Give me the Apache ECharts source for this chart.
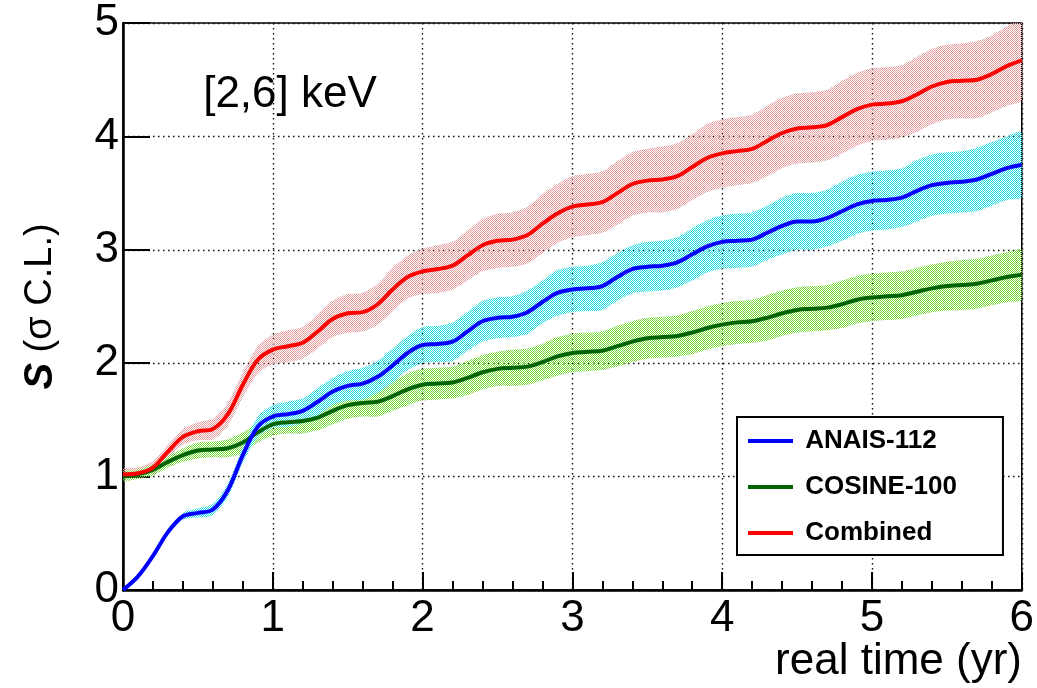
<!DOCTYPE html>
<html>
<head>
<meta charset="utf-8">
<title>Sensitivity vs real time</title>
<script src="https://cdn.jsdelivr.net/npm/echarts@6/dist/echarts.min.js"></script>
<style>
  html, body { margin: 0; padding: 0; background: #fff; }
  #chart { width: 1037px; height: 688px; }
</style>
</head>
<body>
<div id="chart"></div>
<script>
// Sampling times (yr)
const TIME = [0.0,0.1,0.2,0.3,0.4,0.5,0.6,0.7,0.8,0.9,1.0,
  1.1,1.2,1.3,1.4,1.5,1.6,1.7,1.8,1.9,2.0,
  2.1,2.2,2.3,2.4,2.5,2.6,2.7,2.8,2.9,3.0,
  3.1,3.2,3.3,3.4,3.5,3.6,3.7,3.8,3.9,4.0,
  4.1,4.2,4.3,4.4,4.5,4.6,4.7,4.8,4.9,5.0,
  5.1,5.2,5.3,5.4,5.5,5.6,5.7,5.8,5.9,6.0];

// ANAIS-112 sensitivity (sigma C.L.) and band half-width
const ANAIS = [0.00,0.12,0.30,0.51,0.65,0.68,0.71,0.88,1.19,1.44,1.53,
  1.55,1.58,1.66,1.75,1.80,1.82,1.88,1.98,2.09,2.16,
  2.17,2.19,2.28,2.37,2.40,2.41,2.45,2.54,2.62,2.65,
  2.66,2.68,2.76,2.83,2.85,2.86,2.89,2.96,3.03,3.07,
  3.08,3.09,3.15,3.21,3.25,3.25,3.28,3.34,3.40,3.43,
  3.44,3.46,3.52,3.57,3.59,3.60,3.62,3.67,3.72,3.75];
const ANAIS_HW = [0.01,0.01,0.02,0.02,0.03,0.04,0.05,0.06,0.07,0.09,0.10,
  0.11,0.11,0.12,0.12,0.13,0.14,0.14,0.15,0.15,0.16,
  0.16,0.17,0.17,0.18,0.18,0.18,0.19,0.19,0.20,0.20,
  0.20,0.21,0.21,0.21,0.22,0.22,0.22,0.23,0.23,0.235,
  0.24,0.24,0.24,0.25,0.25,0.25,0.25,0.26,0.26,0.26,
  0.26,0.26,0.27,0.27,0.27,0.27,0.28,0.28,0.28,0.285];

// COSINE-100
const COSINE = [1.00,1.02,1.06,1.13,1.19,1.23,1.24,1.25,1.30,1.39,1.46,
  1.48,1.49,1.52,1.58,1.63,1.65,1.66,1.71,1.77,1.81,
  1.82,1.83,1.87,1.92,1.95,1.96,1.97,2.01,2.06,2.09,
  2.10,2.11,2.15,2.19,2.22,2.23,2.24,2.27,2.31,2.34,
  2.36,2.37,2.40,2.44,2.47,2.48,2.49,2.52,2.56,2.58,
  2.59,2.60,2.63,2.66,2.68,2.69,2.70,2.73,2.76,2.78];
const COSINE_HW = [0.04,0.04,0.05,0.05,0.06,0.07,0.07,0.08,0.09,0.09,0.10,
  0.10,0.11,0.11,0.12,0.12,0.12,0.13,0.13,0.14,0.14,
  0.14,0.14,0.15,0.15,0.15,0.16,0.16,0.16,0.17,0.17,
  0.17,0.17,0.18,0.18,0.18,0.18,0.18,0.19,0.19,0.19,
  0.19,0.19,0.20,0.20,0.20,0.20,0.20,0.21,0.21,0.21,
  0.21,0.21,0.21,0.21,0.215,0.22,0.22,0.22,0.22,0.22];

// Combined
const COMBINED = [1.02,1.03,1.08,1.22,1.35,1.40,1.42,1.55,1.81,2.03,2.12,
  2.15,2.18,2.28,2.39,2.44,2.45,2.52,2.65,2.76,2.81,
  2.83,2.86,2.95,3.04,3.08,3.09,3.13,3.23,3.32,3.38,
  3.40,3.42,3.50,3.58,3.61,3.62,3.65,3.73,3.81,3.85,
  3.87,3.89,3.96,4.03,4.07,4.08,4.10,4.17,4.24,4.28,
  4.29,4.31,4.37,4.44,4.48,4.49,4.50,4.55,4.62,4.67];
const COMBINED_HW = [0.05,0.05,0.06,0.06,0.07,0.08,0.09,0.10,0.11,0.12,0.13,
  0.14,0.14,0.15,0.16,0.17,0.17,0.18,0.19,0.19,0.20,
  0.21,0.21,0.22,0.23,0.24,0.24,0.25,0.26,0.26,0.27,
  0.27,0.27,0.28,0.28,0.28,0.29,0.29,0.29,0.30,0.30,
  0.30,0.30,0.31,0.31,0.31,0.31,0.31,0.32,0.32,0.32,
  0.32,0.32,0.33,0.33,0.33,0.33,0.34,0.34,0.35,0.35];

const X_TICKS = [0, 1, 2, 3, 4, 5, 6];
const Y_TICKS = [0, 1, 2, 3, 4, 5];

const FONT = '"Liberation Sans", Arial, Helvetica, sans-serif';

// Stippled fill, like a 50% checker hatch
function stipple(color) {
  const c = document.createElement('canvas');
  c.width = 2; c.height = 2;
  const g = c.getContext('2d');
  g.fillStyle = color;
  g.fillRect(0, 0, 1, 1);
  g.fillRect(1, 1, 1, 1);
  return { image: c, repeat: 'repeat' };
}

function pairs(vals) { return TIME.map((t, i) => [t, vals[i]]); }

// Error band drawn as one polygon: upper edge forward, lower edge back
function band(name, center, hw, fillColor) {
  const fill = stipple(fillColor);
  return {
    name, type: 'custom', silent: true, z: 1,
    coordinateSystem: 'cartesian2d',
    data: [[0, 0]],
    encode: { x: 0, y: 1 },
    clip: true,
    renderItem: function (params, api) {
      const upper = TIME.map((t, i) => api.coord([t, center[i] + hw[i]]));
      const lower = TIME.map((t, i) => api.coord([t, center[i] - hw[i]])).reverse();
      return {
        type: 'polygon',
        shape: { points: upper.concat(lower), smooth: 0.25 },
        style: { fill: fill, stroke: null }
      };
    }
  };
}

function curve(name, vals, color) {
  return {
    name, type: 'line', data: pairs(vals), smooth: 0.35,
    symbol: 'none', z: 5, color,
    itemStyle: { color },
    lineStyle: { color, width: 4 }
  };
}

const chart = echarts.init(document.getElementById('chart'), null, { renderer: 'canvas' });

const option = {
  animation: false,
  backgroundColor: '#fff',
  grid: {
    left: 123, right: 14, top: 23, bottom: 98,
    show: true, borderColor: '#000', borderWidth: 1.5, backgroundColor: 'transparent'
  },
  xAxis: {
    type: 'value', min: 0, max: 6, interval: 1,
    axisLine: { show: true, onZero: false, lineStyle: { color: '#000', width: 2.5 } },
    axisTick: { show: true, inside: true, length: 18, lineStyle: { color: '#000', width: 2 } },
    minorTick: { show: true, splitNumber: 5, length: 9, lineStyle: { color: '#000', width: 2 } },
    axisLabel: {
      color: '#000', fontFamily: FONT, fontSize: 44, margin: 7,
      formatter: v => (X_TICKS.indexOf(v) >= 0 ? String(v) : '')
    },
    splitLine: { show: true, lineStyle: { color: '#111', width: 1.4, type: [1.5, 3.5] } }
  },
  yAxis: {
    type: 'value', min: 0, max: 5, interval: 1,
    axisLine: { show: true, onZero: false, lineStyle: { color: '#000', width: 2.5 } },
    axisTick: { show: true, inside: true, length: 27, lineStyle: { color: '#000', width: 2 } },
    axisLabel: {
      color: '#000', fontFamily: FONT, fontSize: 44, margin: 4,
      formatter: v => (Y_TICKS.indexOf(v) >= 0 ? String(v) : '')
    },
    splitLine: { show: true, lineStyle: { color: '#111', width: 1.4, type: [1.5, 3.5] } },
    name: '{s|S} (σ C.L.)',
    nameLocation: 'middle', nameRotate: 90, nameGap: 62,
    nameTextStyle: {
      color: '#000', fontFamily: FONT, fontSize: 38,
      rich: { s: { fontFamily: FONT, fontSize: 40, fontWeight: 'bold', fontStyle: 'italic', color: '#000' } }
    }
  },
  legend: {
    orient: 'vertical', left: 737, top: 417,
    padding: [11, 46, 9, 11],
    itemWidth: 45, itemHeight: 4, itemGap: 20,
    backgroundColor: '#fff', borderColor: '#000', borderWidth: 2,
    textStyle: { color: '#000', fontFamily: FONT, fontSize: 26, fontWeight: 'bold', lineHeight: 26 },
    icon: 'rect',
    formatter: name => ' ' + name,
    data: ['ANAIS-112', 'COSINE-100', 'Combined']
  },
  graphic: [
    {
      type: 'text', x: 290, y: 95, z: 10,
      style: { text: '[2,6] keV', fill: '#000', font: '44px ' + FONT, align: 'center', verticalAlign: 'middle' }
    },
    {
      type: 'text', x: 1022, y: 662, z: 10,
      style: { text: 'real time (yr)', fill: '#000', font: '44px ' + FONT, align: 'right', verticalAlign: 'middle' }
    }
  ],
  series: [
    band('comb_band', COMBINED, COMBINED_HW, '#e39c9c'),
    band('cos_band', COSINE, COSINE_HW, '#74d63a'),
    band('anais_band', ANAIS, ANAIS_HW, '#22d8e0'),
    curve('COSINE-100', COSINE, '#006400'),
    curve('ANAIS-112', ANAIS, '#0000ff'),
    curve('Combined', COMBINED, '#ff0000')
  ]
};

chart.setOption(option);
</script>
</body>
</html>
